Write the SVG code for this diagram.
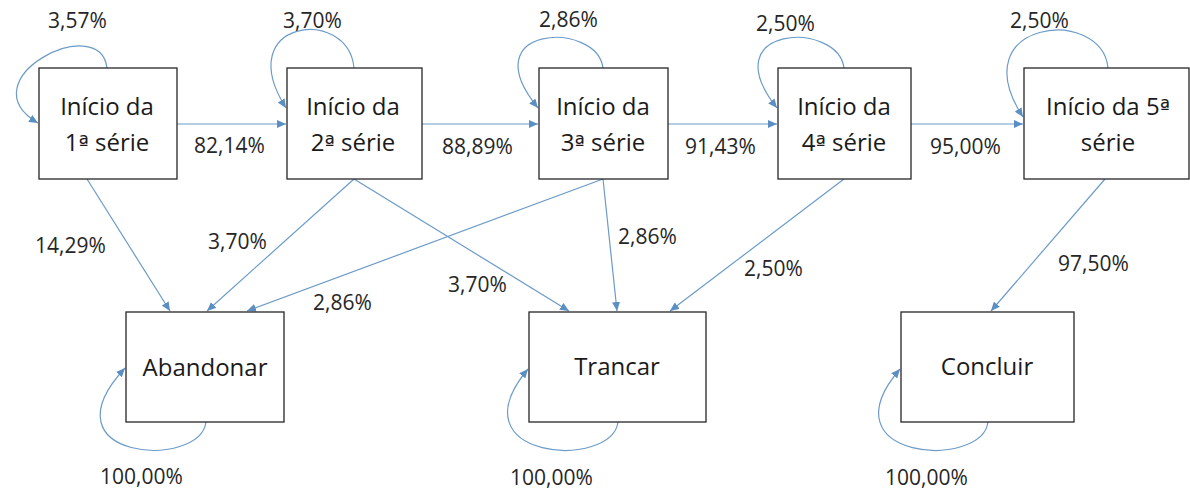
<svg xmlns="http://www.w3.org/2000/svg" width="1190" height="492" viewBox="0 0 1190 492">
<defs>
<marker id="ah" markerUnits="userSpaceOnUse" markerWidth="10" markerHeight="8" refX="9" refY="4" orient="auto">
<path d="M0,0 L9,4 L0,8 Z" fill="#5b8fc4"/>
</marker>
<style>
.box{fill:#fff;stroke:#262626;stroke-width:1.3}
.nt{font-family:"Open Sans","Liberation Sans",sans-serif;font-size:24px;fill:#1a1a1a;text-anchor:middle}
.lb{font-family:"Open Sans","Liberation Sans",sans-serif;font-size:21px;fill:#262626}
.ord{font-family:"DejaVu Sans",sans-serif;font-size:22px}
.cn{fill:none;stroke:#6c9bc8;stroke-width:1.2;marker-end:url(#ah)}
</style>
</defs>
<rect width="1190" height="492" fill="#fff"/>
<g id="connectors">
<path class="cn" d="M107,68 C100,10 -35,80 38,123"/>
<path class="cn" d="M354,68 C348,5 230,20 286,108"/>
<path class="cn" d="M603,68 C597,20 470,25 538,108"/>
<path class="cn" d="M844,68 C838,20 711,25 777,108"/>
<path class="cn" d="M1108,68 C1102,5 960,20 1023,117"/>
<path class="cn" d="M177,124 L286,124"/>
<path class="cn" d="M422,124 L538,124"/>
<path class="cn" d="M668,124 L777,124"/>
<path class="cn" d="M911,124 L1023,124"/>
<path class="cn" d="M87,179 L170,311"/>
<path class="cn" d="M354,179 L207,311"/>
<path class="cn" d="M354,179 L569,311"/>
<path class="cn" d="M603,179 L247,311"/>
<path class="cn" d="M603,179 L617,311"/>
<path class="cn" d="M844,179 L670,311"/>
<path class="cn" d="M1105,179 L991,311"/>
<path class="cn" d="M206,422 C200,470 40,460 125,368"/>
<path class="cn" d="M618,422 C612,470 452,460 528,369"/>
<path class="cn" d="M988,422 C982,470 822,460 900,369"/>
<text class="lb" x="48" y="28">3,57%</text>
<text class="lb" x="283" y="28">3,70%</text>
<text class="lb" x="539" y="27">2,86%</text>
<text class="lb" x="756" y="31">2,50%</text>
<text class="lb" x="1010" y="28">2,50%</text>
<text class="lb" x="194" y="153">82,14%</text>
<text class="lb" x="442" y="154">88,89%</text>
<text class="lb" x="685" y="154">91,43%</text>
<text class="lb" x="930" y="154">95,00%</text>
<text class="lb" x="35" y="253">14,29%</text>
<text class="lb" x="208" y="249">3,70%</text>
<text class="lb" x="313" y="310">2,86%</text>
<text class="lb" x="448" y="292">3,70%</text>
<text class="lb" x="618" y="244">2,86%</text>
<text class="lb" x="744" y="276">2,50%</text>
<text class="lb" x="1058" y="271">97,50%</text>
<text class="lb" x="100" y="484">100,00%</text>
<text class="lb" x="510" y="485">100,00%</text>
<text class="lb" x="885" y="485">100,00%</text>
</g>
<g id="n1"><rect class="box" x="39" y="68" width="138" height="111"/><text class="nt" x="107" y="115">Início da</text><text class="nt" x="107" y="151">1<tspan class="ord">ª</tspan> série</text></g>
<g id="n2"><rect class="box" x="287" y="68" width="135" height="111"/><text class="nt" x="353" y="115">Início da</text><text class="nt" x="353" y="151">2<tspan class="ord">ª</tspan> série</text></g>
<g id="n3"><rect class="box" x="539" y="68" width="129" height="111"/><text class="nt" x="603" y="115">Início da</text><text class="nt" x="603" y="151">3<tspan class="ord">ª</tspan> série</text></g>
<g id="n4"><rect class="box" x="778" y="68" width="133" height="111"/><text class="nt" x="844" y="115">Início da</text><text class="nt" x="844" y="151">4<tspan class="ord">ª</tspan> série</text></g>
<g id="n5"><rect class="box" x="1024" y="68" width="165" height="111"/><text class="nt" x="1108" y="115">Início da 5<tspan class="ord">ª</tspan></text><text class="nt" x="1108" y="151">série</text></g>
<g id="n6"><rect class="box" x="126" y="312" width="158" height="110"/><text class="nt" x="205" y="376">Abandonar</text></g>
<g id="n7"><rect class="box" x="529" y="312" width="177" height="110"/><text class="nt" x="617" y="375">Trancar</text></g>
<g id="n8"><rect class="box" x="901" y="312" width="173" height="110"/><text class="nt" x="987" y="375">Concluir</text></g>
</svg>
